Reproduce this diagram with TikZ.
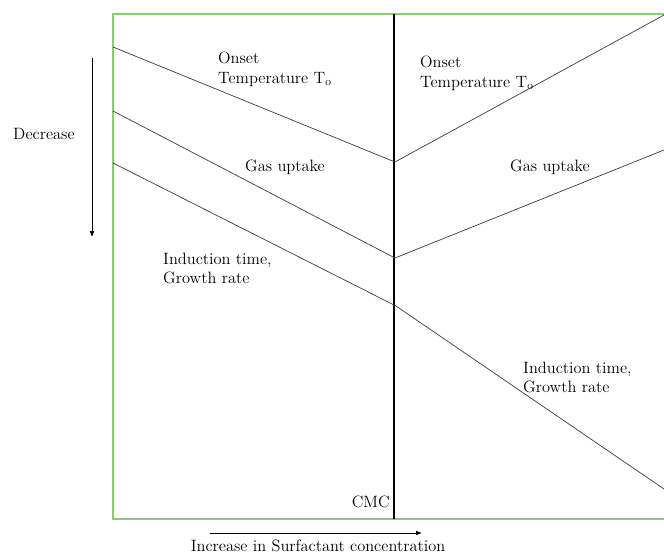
\documentclass[tikz,border=0pt]{standalone}
\usetikzlibrary{arrows.meta, positioning}
\definecolor{framegreen}{RGB}{136,204,116}
\definecolor{curvegray}{RGB}{60,60,60}

\begin{document}
\begin{tikzpicture}[x=0.03cm, y=-0.03cm,
	curve/.style={line width=.6pt, curvegray},
	cmcline/.style={line width=1.4pt, black},
	axisarrow/.style={-{Latex[length=5pt, width=4pt]}, line width=.6pt},
	lbl/.style={inner sep=0pt, align=left, font=\fontsize{14}{16.5}\selectfont},
	every node/.style={align=left}
	]
	\useasboundingbox (0,0) rectangle (664,554);
	% frame (right side runs off the page)
	\draw[framegreen, line width=1pt] (664,14) -- (113,14) -- (113,519) -- (664,519);

	% CMC line
	\coordinate (cmc-top) at (394,14);
	\coordinate (cmc-bot) at (394,519);
	\draw[cmcline] (cmc-top) -- (cmc-bot);
	\node[lbl, anchor=base east] (cmc) at (390,507) {CMC};

	% the three curves, with their kink at the CMC
	\coordinate (onset-l) at (113,47);
	\coordinate (onset-m) at (395,162);
	\coordinate (onset-r) at (664,15);
	\coordinate (gas-l) at (113,111);
	\coordinate (gas-m) at (395,258);
	\coordinate (gas-r) at (664,150);
	\coordinate (ind-l) at (113,163);
	\coordinate (ind-m) at (396,306);
	\coordinate (ind-r) at (664,489);
	\draw[curve] (onset-l) -- (onset-m) -- (onset-r);
	\draw[curve] (gas-l) -- (gas-m) -- (gas-r);
	\draw[curve] (ind-l) -- (ind-m) -- (ind-r);

	% labels
	\node[lbl, anchor=north west] (onset-lbl-l) at (218,52) {Onset\\Temperature T\textsubscript{o}};
	\node[lbl, anchor=north west] (onset-lbl-r) at (420,56) {Onset\\Temperature T\textsubscript{o}};
	\node[lbl, anchor=north west] (gas-lbl-l) at (245,160) {Gas uptake};
	\node[lbl, anchor=north west] (gas-lbl-r) at (510,160) {Gas uptake};
	\node[lbl, anchor=north west] (ind-lbl-l) at (163,253) {Induction time,\\Growth rate};
	\node[lbl, anchor=north west] (ind-lbl-r) at (523,362) {Induction time,\\Growth rate};

	% axis arrows
	\coordinate (dec-top) at (92,58);
	\coordinate (dec-bot) at (92,237);
	\draw[axisarrow] (dec-top) -- (dec-bot);
	\node[lbl, anchor=north west] (dec-lbl) at (13,128) {Decrease};
	\coordinate (inc-l) at (210,533);
	\coordinate (inc-r) at (422,533);
	\draw[axisarrow] (inc-l) -- (inc-r);
	\node[lbl, anchor=north] (inc-lbl) at (318,540) {Increase in Surfactant concentration};
\end{tikzpicture}
\end{document}
